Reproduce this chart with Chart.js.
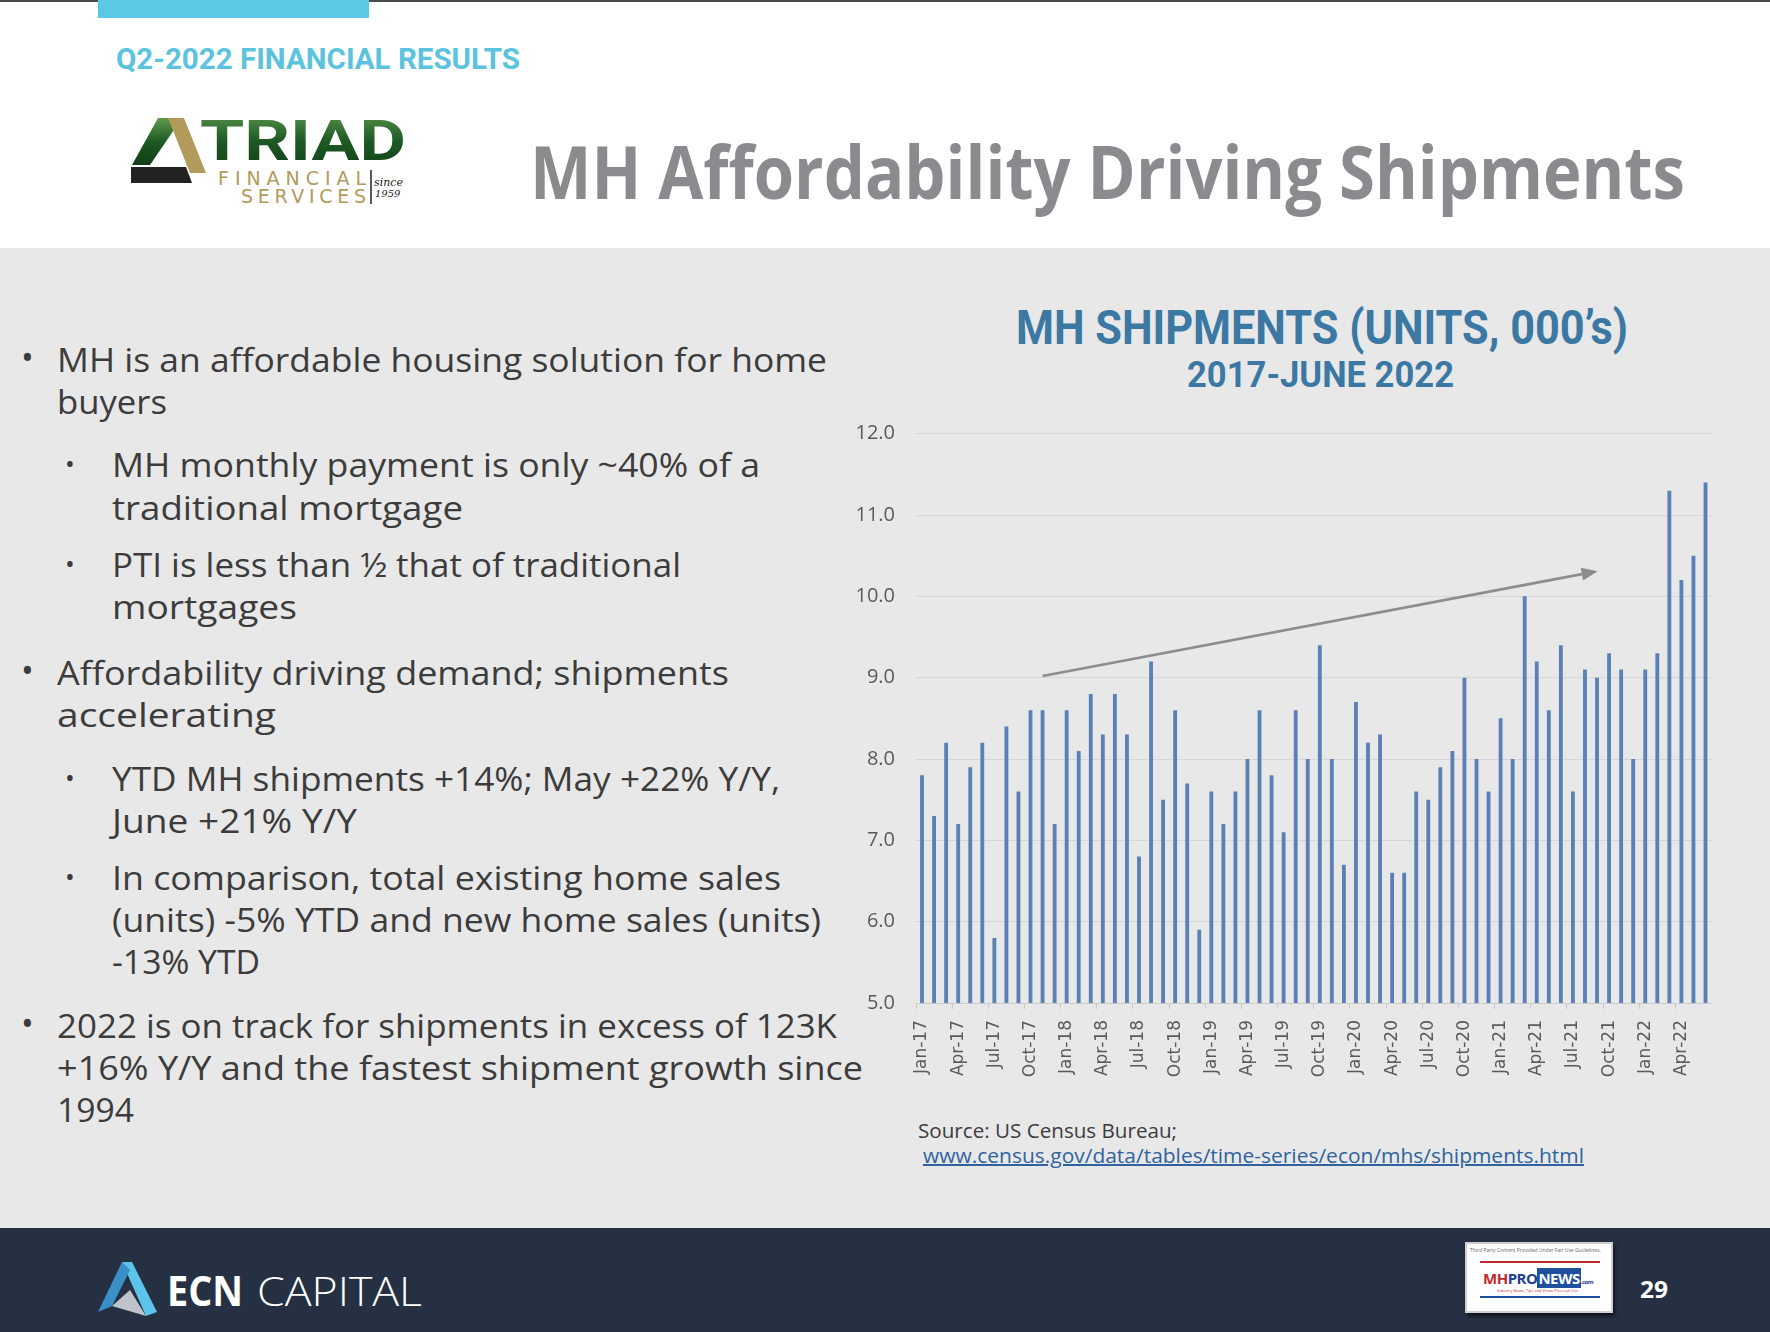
<!DOCTYPE html>
<html>
<head>
<meta charset="utf-8">
<script src="https://cdn.jsdelivr.net/npm/chart.js@4.4.1/dist/chart.umd.min.js"></script>
<style>
  html,body{margin:0;padding:0;}
  body{width:1770px;height:1332px;position:relative;overflow:hidden;background:#e8e8e8;font-family:"Open Sans",sans-serif;}
  #top{position:absolute;left:0;top:0;width:1770px;height:248px;background:#ffffff;}
  #topline{position:absolute;left:0;top:0;width:1770px;height:2px;background:#4a4a4a;}
  #cyanbar{position:absolute;left:98px;top:0;width:271px;height:18px;background:#5bc8e4;}
  #footer{position:absolute;left:0;top:1228px;width:1770px;height:104px;background:#253142;}
  .t{position:absolute;white-space:nowrap;line-height:1;transform-origin:0 50%;}
  .b{color:#3c3c3c;font-size:33px;}
  .dot{position:absolute;color:#3c3c3c;line-height:1;}
  #chartwrap{position:absolute;left:840px;top:418px;width:897px;height:680px;}
  a{color:#2f63a0;}
</style>
</head>
<body>
<div id="top"></div>
<div id="topline"></div>
<div id="cyanbar"></div>

<div class="t" data-w="404" style="left:116px;top:45px;font-size:29px;font-weight:bold;color:#5cc3df;font-family:'Liberation Sans Narrow','Roboto',sans-serif;">Q2-2022 FINANCIAL RESULTS</div>

<svg style="position:absolute;left:125px;top:110px;" width="290" height="100" viewBox="125 110 290 100">
  <defs>
    <linearGradient id="gg" x1="0" y1="0" x2="0" y2="1">
      <stop offset="0" stop-color="#5f9a4e"/>
      <stop offset="0.5" stop-color="#1e5a25"/>
      <stop offset="1" stop-color="#0f3d17"/>
    </linearGradient>
  </defs>
  <polygon points="132,165 158,118 182,118 150,165" fill="url(#gg)"/>
  <polygon points="168,118 184,118 206,173 190,173" fill="#b29a5a"/>
  <polygon points="131,167 186,167 192,183 131,183" fill="#222222"/>
  <text x="200" y="160" font-family="'Liberation Sans Narrow','Roboto',sans-serif" font-weight="bold" font-size="56" fill="url(#gg)" textLength="206" lengthAdjust="spacingAndGlyphs">TRIAD</text>
  <text x="218" y="185" font-family="'Liberation Sans Narrow','DejaVu Sans',sans-serif" font-size="19" fill="#b29a5a" textLength="148" lengthAdjust="spacing">FINANCIAL</text>
  <text x="241" y="203" font-family="'Liberation Sans Narrow','DejaVu Sans',sans-serif" font-size="19" fill="#b29a5a" textLength="125" lengthAdjust="spacing">SERVICES</text>
  <line x1="371" y1="170" x2="371" y2="204" stroke="#222" stroke-width="1.5"/>
  <text x="374" y="186" font-family="'DejaVu Serif',serif" font-style="italic" font-size="11" fill="#222">since</text>
  <text x="375" y="197" font-family="'DejaVu Serif',serif" font-style="italic" font-size="10" fill="#222">1959</text>
</svg>

<div class="t" data-w="1155" style="left:530px;top:134px;font-size:74px;font-weight:bold;color:#898b8e;">MH Affordability Driving Shipments</div>

<!-- bullets -->
<div class="dot" style="left:21px;top:340px;font-size:34px;">•</div>
<div class="t b" data-w="770" style="left:57px;top:343px;">MH is an affordable housing solution for home</div>
<div class="t b" data-w="110" style="left:57px;top:385px;">buyers</div>
<div class="dot" style="left:65px;top:450px;font-size:26px;">•</div>
<div class="t b" data-w="648" style="left:112px;top:448px;">MH monthly payment is only ~40% of a</div>
<div class="t b" data-w="351" style="left:112px;top:491px;">traditional mortgage</div>
<div class="dot" style="left:65px;top:550px;font-size:26px;">•</div>
<div class="t b" data-w="569" style="left:112px;top:548px;">PTI is less than ½ that of traditional</div>
<div class="t b" data-w="185" style="left:112px;top:590px;">mortgages</div>
<div class="dot" style="left:21px;top:653px;font-size:34px;">•</div>
<div class="t b" data-w="672" style="left:57px;top:656px;">Affordability driving demand; shipments</div>
<div class="t b" data-w="219" style="left:57px;top:698px;">accelerating</div>
<div class="dot" style="left:65px;top:764px;font-size:26px;">•</div>
<div class="t b" data-w="668" style="left:112px;top:762px;">YTD MH shipments +14%; May +22% Y/Y,</div>
<div class="t b" data-w="245" style="left:112px;top:804px;">June +21% Y/Y</div>
<div class="dot" style="left:65px;top:863px;font-size:26px;">•</div>
<div class="t b" data-w="669" style="left:112px;top:861px;">In comparison, total existing home sales</div>
<div class="t b" data-w="709" style="left:112px;top:903px;">(units) -5% YTD and new home sales (units)</div>
<div class="t b" data-w="148" style="left:112px;top:945px;">-13% YTD</div>
<div class="dot" style="left:21px;top:1006px;font-size:34px;">•</div>
<div class="t b" data-w="780" style="left:57px;top:1009px;">2022 is on track for shipments in excess of 123K</div>
<div class="t b" data-w="806" style="left:57px;top:1051px;">+16% Y/Y and the fastest shipment growth since</div>
<div class="t b" data-w="77" style="left:57px;top:1093px;">1994</div>

<!-- chart titles -->
<div class="t" data-w="612" style="left:1016px;top:304px;font-size:48px;font-weight:bold;color:#3b78a3;font-family:'Liberation Sans Narrow','Roboto',sans-serif;">MH SHIPMENTS (UNITS, 000’s)</div>
<div class="t" data-w="267" style="left:1187px;top:356px;font-size:37px;font-weight:bold;color:#3b78a3;font-family:'Liberation Sans Narrow','Roboto',sans-serif;">2017-JUNE 2022</div>

<div id="chartwrap"><canvas id="c" width="897" height="680"></canvas></div>

<div class="t" data-w="259" style="left:918px;top:1121px;font-size:20px;color:#3c3c3c;">Source: US Census Bureau;</div>
<div class="t" data-w="661" style="left:923px;top:1146px;font-size:20px;"><a href="#">www.census.gov/data/tables/time-series/econ/mhs/shipments.html</a></div>

<!-- footer -->
<div id="footer"></div>
<svg style="position:absolute;left:95px;top:1258px;" width="66" height="62" viewBox="95 1258 66 62">
  <polygon points="122,1262 132,1262 157,1312 146,1316" fill="#5cc3ea"/>
  <polygon points="122,1262 130,1270 112,1306 98,1312" fill="#3a8fc9"/>
  <polygon points="112,1306 130,1290 146,1316" fill="#bfc4ca"/>
</svg>
<div class="t" data-w="76" style="left:167px;top:1270px;font-size:41px;font-weight:bold;color:#ffffff;">ECN</div>
<div class="t" data-w="165" style="left:257px;top:1270px;font-size:41px;font-weight:300;color:#ffffff;">CAPITAL</div>

<div style="position:absolute;left:1465px;top:1242px;width:148px;height:71px;background:#ffffff;border:2px solid #d0d0d0;box-shadow:2px 3px 4px rgba(0,0,0,0.6);box-sizing:border-box;">
  <div style="position:absolute;left:3px;top:3px;font-size:5px;color:#666;white-space:nowrap;">Third Party Content Provided Under Fair Use Guidelines.</div>
  <div style="position:absolute;left:13px;top:17px;width:120px;height:1.5px;background:#c0282d;"></div>
  <div style="position:absolute;left:16px;top:24px;font-size:15px;font-weight:bold;white-space:nowrap;letter-spacing:-0.5px;"><span style="color:#c0282d;">MH</span><span style="color:#1f3f8f;">PRO</span><span style="background:#1f4f9f;color:#fff;padding:0 1px;">NEWS</span><span style="color:#1f3f8f;font-size:6px;">.com</span></div>
  <div style="position:absolute;left:30px;top:44px;font-size:4px;color:#c0282d;white-space:nowrap;">Industry News, Tips and Views Pros can Use</div>
  <div style="position:absolute;left:13px;top:52px;width:120px;height:1.5px;background:#1f4f9f;"></div>
</div>
<div class="t" data-w="28" style="left:1640px;top:1277px;font-size:24px;font-weight:bold;color:#ffffff;">29</div>

<script>
// ---- Data ----
const categories = [
  "Jan-17","Feb-17","Mar-17","Apr-17","May-17","Jun-17","Jul-17","Aug-17","Sep-17","Oct-17","Nov-17","Dec-17",
  "Jan-18","Feb-18","Mar-18","Apr-18","May-18","Jun-18","Jul-18","Aug-18","Sep-18","Oct-18","Nov-18","Dec-18",
  "Jan-19","Feb-19","Mar-19","Apr-19","May-19","Jun-19","Jul-19","Aug-19","Sep-19","Oct-19","Nov-19","Dec-19",
  "Jan-20","Feb-20","Mar-20","Apr-20","May-20","Jun-20","Jul-20","Aug-20","Sep-20","Oct-20","Nov-20","Dec-20",
  "Jan-21","Feb-21","Mar-21","Apr-21","May-21","Jun-21","Jul-21","Aug-21","Sep-21","Oct-21","Nov-21","Dec-21",
  "Jan-22","Feb-22","Mar-22","Apr-22","May-22","Jun-22"
];
const shipments = [
  7.8, 7.3, 8.2, 7.2, 7.9, 8.2, 5.8, 8.4, 7.6, 8.6, 8.6, 7.2,
  8.6, 8.1, 8.8, 8.3, 8.8, 8.3, 6.8, 9.2, 7.5, 8.6, 7.7, 5.9,
  7.6, 7.2, 7.6, 8.0, 8.6, 7.8, 7.1, 8.6, 8.0, 9.4, 8.0, 6.7,
  8.7, 8.2, 8.3, 6.6, 6.6, 7.6, 7.5, 7.9, 8.1, 9.0, 8.0, 7.6,
  8.5, 8.0, 10.0, 9.2, 8.6, 9.4, 7.6, 9.1, 9.0, 9.3, 9.1, 8.0,
  9.1, 9.3, 11.3, 10.2, 10.5, 11.4
];
const yTicks = [5.0, 6.0, 7.0, 8.0, 9.0, 10.0, 11.0, 12.0];
const labelEvery = 3;
// trend arrow, in data coordinates [category index, value]
const arrowStart = [10.0, 9.02];
const arrowEnd = [56.05, 10.31];

const arrowPlugin = {
  id: 'trendArrow',
  afterDatasetsDraw(chart) {
    const xs = chart.scales.x, ys = chart.scales.y, ctx = chart.ctx;
    const x1 = xs.getPixelForValue(arrowStart[0]), y1 = ys.getPixelForValue(arrowStart[1]);
    const x2 = xs.getPixelForValue(arrowEnd[0]), y2 = ys.getPixelForValue(arrowEnd[1]);
    const ang = Math.atan2(y2 - y1, x2 - x1);
    const L = 16, W = 6.5;
    const bx = x2 - L * Math.cos(ang), by = y2 - L * Math.sin(ang);
    ctx.save();
    ctx.strokeStyle = '#8b8d90';
    ctx.fillStyle = '#8b8d90';
    ctx.lineWidth = 2.6;
    ctx.beginPath(); ctx.moveTo(x1, y1); ctx.lineTo(bx, by); ctx.stroke();
    ctx.beginPath();
    ctx.moveTo(x2, y2);
    ctx.lineTo(bx + W * Math.sin(ang), by - W * Math.cos(ang));
    ctx.lineTo(bx - W * Math.sin(ang), by + W * Math.cos(ang));
    ctx.closePath(); ctx.fill();
    ctx.restore();
  }
};

function fitAll() {
  document.querySelectorAll('.t[data-w]').forEach(el => {
    el.style.transform = 'none';
    const w = el.getBoundingClientRect().width;
    const target = parseFloat(el.dataset.w);
    if (w > 0) el.style.transform = 'scaleX(' + (target / w) + ')';
  });
}

function drawChart() {
  new Chart(document.getElementById('c'), {
    type: 'bar',
    data: {
      labels: categories,
      datasets: [{
        data: shipments,
        backgroundColor: '#5a80b5',
        borderWidth: 0,
        categoryPercentage: 1.0,
        barPercentage: 0.32
      }]
    },
    options: {
      responsive: false,
      animation: false,
      devicePixelRatio: 1,
      layout: { padding: { top: 15.7, right: 11.5, left: 0, bottom: 0 } },
      plugins: { legend: { display: false }, tooltip: { enabled: false }, title: { display: false } },
      scales: {
        x: {
          offset: true,
          grid: {
            offset: true,
            drawOnChartArea: false,
            drawTicks: true,
            tickLength: 6,
            color: ctx => (ctx.index % labelEvery === 0 ? '#c8c8c8' : 'rgba(0,0,0,0)'),
            lineWidth: 1
          },
          border: { display: true, color: '#cccccc', width: 1 },
          ticks: {
            autoSkip: false,
            minRotation: 90,
            maxRotation: 90,
            padding: 11,
            color: '#5a5a5a',
            font: { family: 'DejaVu Sans', size: 17 },
            callback: (v, i) => (i % labelEvery === 0 ? categories[i] : '')
          },
          afterFit: s => { s.height = 95; }
        },
        y: {
          min: 5,
          max: 12,
          afterBuildTicks: s => { s.ticks = yTicks.map(v => ({ value: v })); },
          grid: { color: '#d6d6d6', lineWidth: 1, drawTicks: false },
          border: { display: false },
          ticks: {
            padding: 21,
            color: '#5a5a5a',
            font: { family: 'Open Sans', size: 20 },
            callback: v => Number(v).toFixed(1)
          },
          afterFit: s => { s.width = 76; s.paddingTop = 0; s.paddingBottom = 0; }
        }
      }
    },
    plugins: [arrowPlugin]
  });
}

(document.fonts && document.fonts.ready ? document.fonts.ready : Promise.resolve()).then(() => {
  fitAll();
  drawChart();
});
</script>
</body>
</html>
